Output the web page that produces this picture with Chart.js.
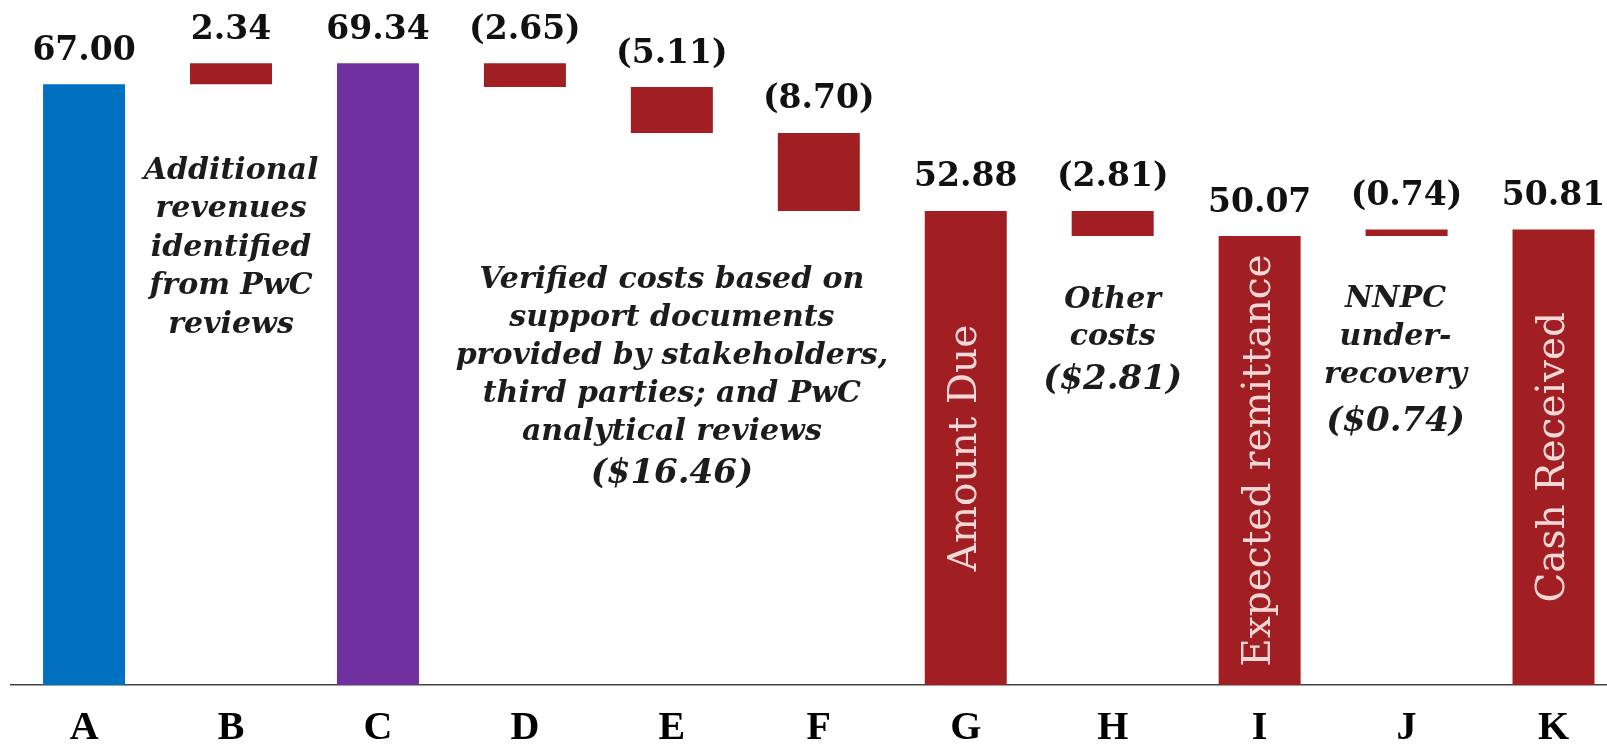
<!DOCTYPE html>
<html>
<head>
<meta charset="utf-8">
<script src="https://cdn.jsdelivr.net/npm/chart.js@4.4.0/dist/chart.umd.min.js"></script>
<style>
  html, body { margin: 0; padding: 0; background: #fff; overflow: hidden; }
  #wrap { position: relative; width: 1627px; height: 773px; }
</style>
</head>
<body>
<div id="wrap"><canvas id="waterfall"></canvas></div>
<script>
// waterfall data
const categories = ['A', 'B', 'C', 'D', 'E', 'F', 'G', 'H', 'I', 'J', 'K'];
const totals = [67.00, null, 69.34, null, null, null, 52.88, null, 50.07, null, 50.81];
const changes = [null, 2.34, null, -2.65, -5.11, -8.70, null, -2.81, null, 0.74, null];
const valueLabels = ['67.00', '2.34', '69.34', '(2.65)', '(5.11)', '(8.70)', '52.88', '(2.81)', '50.07', '(0.74)', '50.81'];
const barNotes = ['', '', '', '', '', '', 'Amount Due', '', 'Expected remittance', '', 'Cash Received'];

const additionalText = ['Additional', 'revenues', 'identified', 'from PwC', 'reviews'];
const verifiedText = ['Verified costs based on', 'support documents', 'provided by stakeholders,', 'third parties; and PwC', 'analytical reviews', '($16.46)'];
const otherText = ['Other', 'costs', '($2.81)'];
const nnpcText = ['NNPC', 'under-', 'recovery', '($0.74)'];

// build floating bars
let running = 0;
const floating = categories.map((c, i) => {
  if (totals[i] !== null) {
    running = totals[i];
    return [0, totals[i]];
  }
  const start = running;
  running = running + changes[i];
  return [start, running];
});

const BLUE = '#0070c0';
const PURPLE = '#7030a0';
const RED = '#a11f23';

// text blocks: category anchor, first line y, line gap, shift for the $ line
const notesLayout = [
  { cat: 1, dx: 0, top: 171, gap: 38.5, amt: 0, lines: additionalText },
  { cat: 4, dx: 0, top: 280, gap: 38, amt: 4, lines: verifiedText },
  { cat: 7, dx: 0, top: 300, gap: 37.5, amt: 5, lines: otherText },
  { cat: 9, dx: -11, top: 299, gap: 38, amt: 9, lines: nnpcText }
];

const labelsPlugin = {
  id: 'labels',
  afterDatasetsDraw(chart) {
    const ctx = chart.ctx;
    const meta = chart.getDatasetMeta(0);
    const yScale = chart.scales.y;
    ctx.save();
    ctx.textAlign = 'center';
    ctx.textBaseline = 'middle';

    meta.data.forEach((bar, i) => {
      const top = yScale.getPixelForValue(Math.max(floating[i][0], floating[i][1]));
      const bottom = yScale.getPixelForValue(Math.min(floating[i][0], floating[i][1]));
      // value label above bar
      ctx.fillStyle = '#111';
      ctx.font = 'bold 33px "DejaVu Serif"';
      ctx.fillText(valueLabels[i], bar.x, top - 33);
      // rotated note inside bar
      if (barNotes[i]) {
        ctx.save();
        ctx.translate(bar.x, (top + bottom) / 2);
        ctx.rotate(-Math.PI / 2);
        ctx.fillStyle = '#f4d8d8';
        ctx.font = '39px "DejaVu Serif"';
        ctx.fillText(barNotes[i], 0, 0);
        ctx.restore();
      }
    });

    // italic annotations
    const xScale = chart.scales.x;
    notesLayout.forEach(n => {
      const x = xScale.getPixelForValue(n.cat) + n.dx;
      n.lines.forEach((line, j) => {
        const isAmount = line.startsWith('(');
        ctx.fillStyle = '#1c1c1c';
        ctx.font = 'italic bold ' + (isAmount ? 34 : 30) + 'px "DejaVu Serif"';
        ctx.fillText(line, x, n.top + j * n.gap + (isAmount ? n.amt : 0));
      });
    });
    ctx.restore();
  }
};

new Chart(document.getElementById('waterfall'), {
  type: 'bar',
  data: {
    labels: categories,
    datasets: [{
      data: floating,
      backgroundColor: categories.map((c, i) => i === 0 ? BLUE : (i === 2 ? PURPLE : RED)),
      borderWidth: 0,
      borderSkipped: false,
      barPercentage: 1,
      categoryPercentage: 0.558
    }]
  },
  options: {
    responsive: true,
    maintainAspectRatio: false,
    animation: false,
    layout: { padding: { left: 10.6, right: 0, top: 0, bottom: 0 } },
    plugins: {
      legend: { display: false },
      tooltip: { enabled: false }
    },
    scales: {
      x: {
        grid: { display: false, drawTicks: false },
        border: { display: true, color: '#444', width: 1.5 },
        ticks: {
          color: '#000',
          padding: 24,
          autoSkip: false,
          maxRotation: 0,
          font: { family: '"Liberation Serif", serif', weight: 'bold', size: 40, lineHeight: 1 }
        }
      },
      y: {
        display: false,
        min: 0,
        max: 76.4
      }
    }
  },
  plugins: [labelsPlugin]
});
</script>
</body>
</html>
